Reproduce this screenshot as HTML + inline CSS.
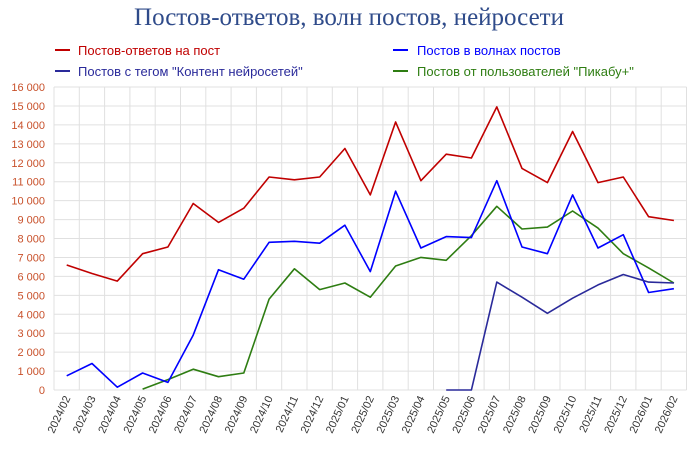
<!DOCTYPE html><html><head><meta charset="utf-8"><style>
body{margin:0;background:#fff;width:700px;height:446px;overflow:hidden}
svg text{font-family:"Liberation Sans","DejaVu Sans",sans-serif}
</style></head><body>
<svg id="s" width="700" height="446" xmlns="http://www.w3.org/2000/svg">
<text x="349" y="25" text-anchor="middle" style="font-family:'Liberation Serif','DejaVu Serif',serif;font-size:25px" fill="#2f4b8a">Постов-ответов, волн постов, нейросети</text>
<line x1="55" y1="50" x2="70" y2="50" stroke="#c00000" stroke-width="2"/>
<text x="78" y="55" font-size="13" fill="#c00000">Постов-ответов на пост</text>
<line x1="55" y1="71" x2="70" y2="71" stroke="#2a2a9a" stroke-width="2"/>
<text x="78" y="76" font-size="13" fill="#2a2a9a">Постов с тегом "Контент нейросетей"</text>
<line x1="393" y1="50" x2="408" y2="50" stroke="#0000ff" stroke-width="2"/>
<text x="417" y="55" font-size="13" fill="#0000ff">Постов в волнах постов</text>
<line x1="393" y1="71" x2="408" y2="71" stroke="#2e7d12" stroke-width="2"/>
<text x="417" y="76" font-size="13" fill="#2e7d12">Постов от пользователей "Пикабу+"</text>
<g id="g"></g>
</svg>
<script>
const g=document.getElementById('g');let h='';
const X0=54,W=25.3,Y0=390,K=303/16000;
const x=i=>X0+W*(i+0.5),y=v=>Y0-v*K;
for(let k=0;k<=16;k++){const yy=Y0-k*1000*K;h+=`<line x1="${X0}" x2="${X0+25*W}" y1="${yy}" y2="${yy}" stroke="#e0e0e0"/>`;
h+=`<text x="45" y="${yy+4}" font-size="11" text-anchor="end" fill="#c8502a">${k==0?'0':k+' 000'}</text>`;}
const labs=[];for(let i=0;i<25;i++){let m=i+2,yr=2024;while(m>12){m-=12;yr++;}labs.push(yr+'/'+String(m).padStart(2,'0'));}
for(let i=0;i<=25;i++){const xx=X0+i*W;h+=`<line x1="${xx}" x2="${xx}" y1="${y(16000)}" y2="${Y0}" stroke="#e0e0e0"/>`;}
labs.forEach((l,i)=>{const xx=x(i)+4,yy=Y0+8;h+=`<text transform="translate(${xx},${yy}) rotate(-65)" font-size="11" text-anchor="end" fill="#333">${l}</text>`;});
function line(d,st,c){let p=d.map((v,i)=>v==null?null:`${x(i+st).toFixed(1)},${y(v).toFixed(1)}`).filter(a=>a).join(' ');h+=`<polyline points="${p}" fill="none" stroke="${c}" stroke-width="1.6" stroke-linejoin="round"/>`;}
line([6600,6150,5750,7200,7550,9850,8850,9600,11250,11100,11250,12750,10300,14150,11050,12450,12250,14950,11700,10950,13650,10950,11250,9150,8950],0,'#c00000');
line([50,550,1100,700,900,4800,6400,5300,5650,4900,6550,7000,6850,8150,9700,8500,8600,9450,8550,7200,6450,5650],3,'#2e7d12');
line([750,1400,150,900,400,2900,6350,5850,7800,7850,7750,8700,6250,10500,7500,8100,8050,11050,7550,7200,10300,7500,8200,5150,5350],0,'#0000ff');
line([0,0,5700,4900,4050,4850,5550,6100,5700,5650],15,'#2a2a9a');
g.innerHTML=h;
</script>
</body></html>
